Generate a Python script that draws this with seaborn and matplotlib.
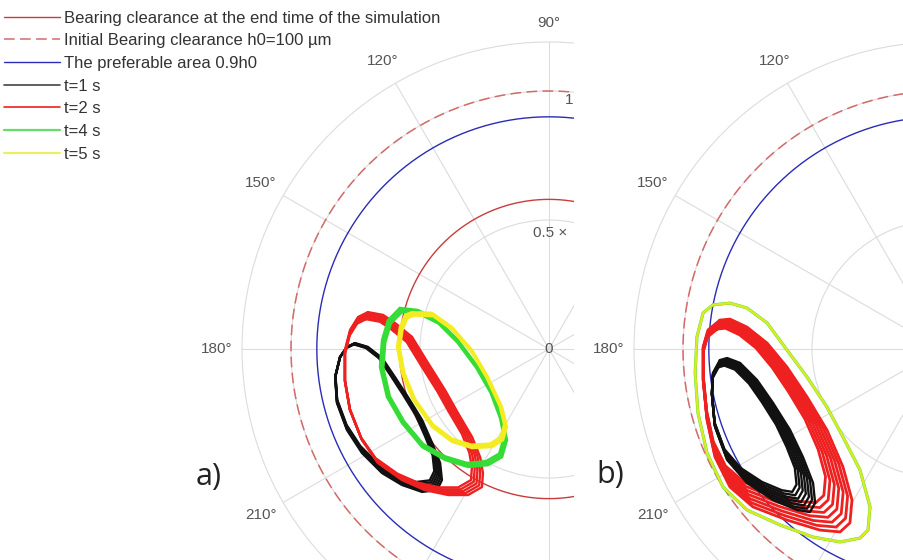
import numpy as np
import pandas as pd
import matplotlib
matplotlib.use("Agg")
import matplotlib.pyplot as plt
from matplotlib.lines import Line2D
from matplotlib.patches import Rectangle
import seaborn as sns

sns.set_theme(style="white")
plt.rcParams['font.family'] = ['Liberation Sans', 'DejaVu Sans']

# ---------------- data (radius unit: 1e-4 m, i.e. h0 = 1) ----------------
r_end_clearance = 0.58      # bearing clearance at the end time (panel a)
r_initial = 1.0             # initial bearing clearance h0
r_preferable = 0.9          # preferable area 0.9 h0
r_max = 1.19

theta_ticks = [0, 30, 60, 90, 120, 150, 180, 210, 240, 270, 300, 330]
labels_a = ['', '', '', '', '120°', '150°', '180°', '210°', '', '', '', '']
labels_b = ['', '', '', '', '120°', '150°', '180°', '210°', '', '', '', '']

legend_labels = ["Bearing clearance at the end time of the simulation",
                 "Initial Bearing clearance h0=100 µm",
                 "The preferable area 0.9h0",
                 "t=1 s", "t=2 s", "t=4 s", "t=5 s"]

# panel a) orbits (outermost ring, Cartesian x, y)
a_t1_x = [-0.752, -0.702, -0.647, -0.597, -0.547, -0.492, -0.453, -0.422, -0.415, -0.434,
          -0.492, -0.570, -0.647, -0.725, -0.783, -0.822, -0.829, -0.810, -0.783]
a_t1_y = [0.023, 0.008, -0.035, -0.109, -0.186, -0.275, -0.364, -0.442, -0.508, -0.547,
          -0.554, -0.527, -0.481, -0.403, -0.314, -0.209, -0.109, -0.031, 0.008]
a_t1_anchor = (-0.810, -0.043)
a_t1_scales = [1.0, 0.985, 0.97, 0.955, 0.94, 0.925]

a_t2_x = [-0.702, -0.643, -0.597, -0.531, -0.469, -0.403, -0.353, -0.298, -0.267, -0.256, -0.260,
          -0.314, -0.391, -0.481, -0.570, -0.663, -0.725, -0.771, -0.791, -0.791, -0.771, -0.740]
a_t2_y = [0.143, 0.132, 0.101, 0.047, -0.054, -0.159, -0.248, -0.341, -0.419, -0.481, -0.535,
          -0.566, -0.566, -0.547, -0.508, -0.442, -0.353, -0.236, -0.120, -0.004, 0.074, 0.124]
a_t2_anchor = (-0.791, -0.198)
a_t2_scales = [1.0, 0.98, 0.96, 0.94, 0.92]

a_t4_x = [-0.578, -0.508, -0.430, -0.353, -0.275, -0.217, -0.178, -0.163, -0.182, -0.236,
          -0.314, -0.403, -0.492, -0.570, -0.628, -0.655, -0.647, -0.624]
a_t4_y = [0.159, 0.151, 0.112, 0.035, -0.070, -0.171, -0.275, -0.353, -0.419, -0.450,
          -0.457, -0.430, -0.380, -0.287, -0.186, -0.070, 0.035, 0.112]
a_t4_anchor = (-0.403, -0.151)
a_t4_scales = [1.0, 0.975, 0.95]

a_t5_x = [-0.531, -0.453, -0.376, -0.298, -0.236, -0.182, -0.163, -0.178, -0.221, -0.298,
          -0.376, -0.453, -0.527, -0.570, -0.589, -0.578, -0.558]
a_t5_y = [0.143, 0.140, 0.085, -0.004, -0.109, -0.225, -0.302, -0.353, -0.380, -0.384,
          -0.360, -0.302, -0.198, -0.093, 0.008, 0.085, 0.132]
a_t5_anchor = (-0.376, -0.120)
a_t5_scales = [1.0, 0.975, 0.95]

# panel b) orbits
b_t1_x = [-0.857, -0.829, -0.779, -0.713, -0.651, -0.585, -0.535, -0.496, -0.488, -0.508,
          -0.558, -0.651, -0.752, -0.829, -0.876, -0.888, -0.884]
b_t1_y = [-0.043, -0.035, -0.054, -0.120, -0.209, -0.314, -0.419, -0.519, -0.597, -0.632,
          -0.624, -0.585, -0.519, -0.430, -0.302, -0.171, -0.093]
b_t1_anchor = (-0.888, -0.198)
b_t1_scales = [1.0, 0.97, 0.94, 0.91, 0.88, 0.85, 0.82]

b_t2_x = [-0.857, -0.818, -0.752, -0.674, -0.597, -0.519, -0.442, -0.380, -0.345, -0.353,
          -0.391, -0.469, -0.597, -0.729, -0.818, -0.876, -0.907, -0.922, -0.922, -0.903]
b_t2_y = [0.112, 0.116, 0.085, 0.023, -0.070, -0.186, -0.314, -0.457, -0.585, -0.674,
          -0.709, -0.702, -0.663, -0.612, -0.535, -0.419, -0.275, -0.120, 0.008, 0.074]
b_t2_anchor = (-0.915, -0.081)
b_t2_scales = [1.0, 0.97, 0.94, 0.91, 0.88, 0.85, 0.82]

b_t45_x = [-0.884, -0.818, -0.752, -0.674, -0.597, -0.519, -0.442, -0.380, -0.314, -0.275, -0.283,
           -0.314, -0.391, -0.496, -0.624, -0.752, -0.845, -0.907, -0.942, -0.953, -0.946, -0.922]
b_t45_y = [0.171, 0.178, 0.159, 0.101, -0.004, -0.109, -0.225, -0.341, -0.469, -0.612, -0.702,
           -0.733, -0.748, -0.729, -0.682, -0.624, -0.535, -0.403, -0.248, -0.093, 0.047, 0.140]
b_t45_anchor = (-0.60, -0.28)
b_t45_scales = [1.0]

# ---------------- styles ----------------
c_end = '#c83c3c'
c_init = '#d46a6a'
c_pref = '#2b2bb8'
c_t1 = '#111111'
c_t2 = '#ee2020'
c_t4 = '#35dc35'
c_t5 = '#f4ec22'
grid_c = '#dcdcdc'
lab_c = '#555555'


def ring_frame(xs, ys, anchor, scales):
    parts = []
    for k, s in enumerate(scales):
        x = anchor[0] + s * (np.asarray(xs) - anchor[0])
        y = anchor[1] + s * (np.asarray(ys) - anchor[1])
        x = np.append(x, x[0])
        y = np.append(y, y[0])
        parts.append(pd.DataFrame({'theta': np.mod(np.arctan2(y, x), 2 * np.pi),
                                   'r': np.hypot(x, y), 'ring': k}))
    return pd.concat(parts, ignore_index=True)


def circle_frame(radius):
    th = np.linspace(0, 2 * np.pi, 721)
    return pd.DataFrame({'theta': th, 'r': np.full_like(th, radius), 'ring': 0})


def draw(ax, df, color, lw, ls='-', alpha=1.0, z=2):
    sns.lineplot(data=df, x='theta', y='r', units='ring', estimator=None, sort=False,
                 color=color, linewidth=lw, linestyle=ls, alpha=alpha, legend=False,
                 ax=ax, zorder=z, solid_joinstyle='round', solid_capstyle='round')


def style_polar(ax, labels):
    ax.set_facecolor('white')
    ax.set_ylim(0, r_max)
    ax.set_rgrids([0.5, 1.0], labels=['', ''])
    ax.set_thetagrids(theta_ticks, labels)
    ax.grid(True, color=grid_c, linewidth=0.8)
    ax.spines['polar'].set_color(grid_c)
    ax.spines['polar'].set_linewidth(0.8)
    ax.tick_params(axis='x', pad=5.5, labelsize=11, labelcolor=lab_c, colors=lab_c)
    ax.set_xlabel('')
    ax.set_ylabel('')
    ax.set_axisbelow(True)


W, H = 904, 560
fig = plt.figure(figsize=(W / 100, H / 100), dpi=100)
fig.patch.set_facecolor('white')

R_px = 307
axa = fig.add_axes([(549 - R_px) / W, (H - 349 - R_px) / H, 2 * R_px / W, 2 * R_px / H],
                   projection='polar')
axa.set_zorder(0)

dashes = (0, (7, 3.5))
draw(axa, circle_frame(r_initial), c_init, 1.1, ls=dashes)
draw(axa, circle_frame(r_preferable), c_pref, 1.0)
draw(axa, circle_frame(r_end_clearance), c_end, 1.0)
draw(axa, ring_frame(a_t1_x, a_t1_y, a_t1_anchor, a_t1_scales), c_t1, 1.7, z=3)
draw(axa, ring_frame(a_t2_x, a_t2_y, a_t2_anchor, a_t2_scales), c_t2, 1.7, z=4)
draw(axa, ring_frame(a_t4_x, a_t4_y, a_t4_anchor, a_t4_scales), c_t4, 1.8, z=5)
draw(axa, ring_frame(a_t5_x, a_t5_y, a_t5_anchor, a_t5_scales), c_t5, 1.8, z=6)
style_polar(axa, labels_a)

axa.text(np.pi / 2, 1.264, '90°', ha='center', va='center', fontsize=11, color=lab_c)
axa.text(np.deg2rad(85.4), 0.968, '1', ha='center', va='center', fontsize=11, color=lab_c)
axa.text(np.deg2rad(97.9), 0.454, '0.5 ×', ha='left', va='center', fontsize=11, color=lab_c)
axa.text(0, 0, '0', ha='center', va='center', fontsize=11, color=lab_c)

handles = [Line2D([], [], color=c_end, lw=1.0),
           Line2D([], [], color=c_init, lw=1.1, linestyle=dashes),
           Line2D([], [], color=c_pref, lw=1.0),
           Line2D([], [], color='#444444', lw=1.2),
           Line2D([], [], color=c_t2, lw=1.2),
           Line2D([], [], color='#66dd66', lw=1.6),
           Line2D([], [], color='#eeee66', lw=1.6)]
axa.legend(handles, legend_labels, loc='upper left', bbox_to_anchor=(0.004, 0.981),
           bbox_transform=fig.transFigure, frameon=False, fontsize=12,
           handlelength=3.4, handletextpad=0.25, labelspacing=0.46,
           borderpad=0.0, borderaxespad=0.0, labelcolor='#333333')

# white mask separating the two cropped panels
fig.add_artist(Rectangle((574 / W, 0), 1 - 574 / W, 1, transform=fig.transFigure,
                         facecolor='white', edgecolor='none', zorder=1))

axb = fig.add_axes([(941 - R_px) / W, (H - 349 - R_px) / H, 2 * R_px / W, 2 * R_px / H],
                   projection='polar')
axb.set_zorder(2)
draw(axb, circle_frame(r_initial), c_init, 1.1, ls=dashes)
draw(axb, circle_frame(r_preferable), c_pref, 1.0)
draw(axb, ring_frame(b_t45_x, b_t45_y, b_t45_anchor, b_t45_scales), c_t4, 2.2, z=3)
draw(axb, ring_frame(b_t45_x, b_t45_y, b_t45_anchor, b_t45_scales), c_t5, 1.8, alpha=0.88, z=4)
draw(axb, ring_frame(b_t2_x, b_t2_y, b_t2_anchor, b_t2_scales), c_t2, 2.0, z=5)
draw(axb, ring_frame(b_t1_x, b_t1_y, b_t1_anchor, b_t1_scales), c_t1, 1.7, z=6)
style_polar(axb, labels_b)

fig.text(209 / W, 1 - 477 / H, 'a)', ha='center', va='center', fontsize=22,
         family=['Open Sans', 'DejaVu Sans'], color='#222222', zorder=5)
fig.text(610 / W, 1 - 475 / H, 'b)', ha='center', va='center', fontsize=22,
         family=['Open Sans', 'DejaVu Sans'], color='#222222', zorder=5)

fig.savefig('out.png', dpi=100, facecolor='white')
